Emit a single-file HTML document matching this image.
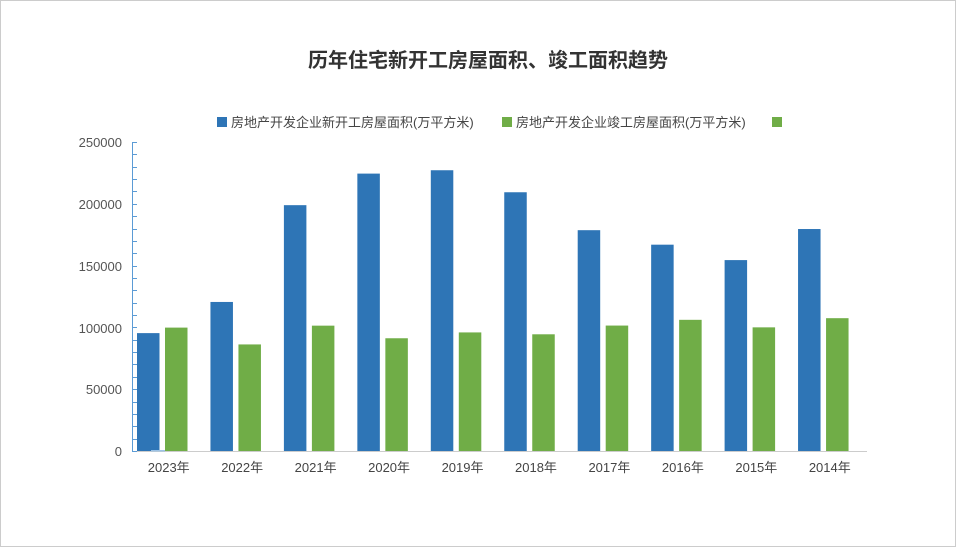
<!DOCTYPE html>
<html><head><meta charset="utf-8"><style>
html,body{margin:0;padding:0;background:#fff}
svg{display:block}
text{font-family:"Liberation Sans","Noto Sans CJK SC",sans-serif}
</style></head><body>
<svg width="956" height="547" xmlns="http://www.w3.org/2000/svg">
<rect x="0.5" y="0.5" width="955" height="546" fill="#fff" stroke="#ccc"/>
<text x="488" y="67" text-anchor="middle" font-size="20" font-weight="bold" fill="#333">历年住宅新开工房屋面积、竣工面积趋势</text>
<rect x="217" y="117" width="10" height="10" fill="#2e75b6"/>
<text x="231" y="127" font-size="13" fill="#444">房地产开发企业新开工房屋面积(万平方米)</text>
<rect x="502" y="117" width="10" height="10" fill="#70ad47"/>
<text x="516" y="127" font-size="13" fill="#444">房地产开发企业竣工房屋面积(万平方米)</text>
<rect x="772" y="117" width="10" height="10" fill="#70ad47"/>
<g font-size="13" fill="#555" text-anchor="end">
<text x="122" y="147">250000</text>
<text x="122" y="209">200000</text>
<text x="122" y="271">150000</text>
<text x="122" y="333">100000</text>
<text x="122" y="394">50000</text>
<text x="122" y="456">0</text>
</g>
<g id="bars"></g>
<line x1="132" y1="451.5" x2="867" y2="451.5" stroke="#ccc"/>
<line x1="132.5" y1="142" x2="132.5" y2="452" stroke="#5b9bd5"/>
<g id="ticks" stroke="#5b9bd5"></g>
<rect x="151" y="450" width="14" height="1.5" fill="#9dc3e6"/>
<g id="xl" font-size="13" fill="#444" text-anchor="middle"></g>
<script>
var ns="http://www.w3.org/2000/svg";
var b=[95376,120587,198895,224433,227154,209342,178654,166928,154454,179592];
var g=[99831,86222,101412,91218,95942,94421,101486,106128,100039,107459];
var yrs=[2023,2022,2021,2020,2019,2018,2017,2016,2015,2014];
var s=309/250000,cw=73.45;
var G=document.getElementById("bars"),X=document.getElementById("xl"),T=document.getElementById("ticks");
function r(x,v,c){var e=document.createElementNS(ns,"rect");var h=v*s;e.setAttribute("x",x);e.setAttribute("y",451-h);e.setAttribute("width",22.5);e.setAttribute("height",h);e.setAttribute("fill",c);G.appendChild(e);}
for(var i=0;i<10;i++){var x0=132+i*cw;r(x0+5,b[i],"#2e75b6");r(x0+33,g[i],"#70ad47");
var t=document.createElementNS(ns,"text");t.setAttribute("x",x0+cw/2);t.setAttribute("y",472);t.textContent=yrs[i]+"年";X.appendChild(t);}
for(var k=0;k<=25;k++){var y=Math.round(451-k*10000*s)+0.5;var l=document.createElementNS(ns,"line");l.setAttribute("x1",132);l.setAttribute("x2",137);l.setAttribute("y1",y);l.setAttribute("y2",y);T.appendChild(l);}
</script>
</svg>
</body></html>
